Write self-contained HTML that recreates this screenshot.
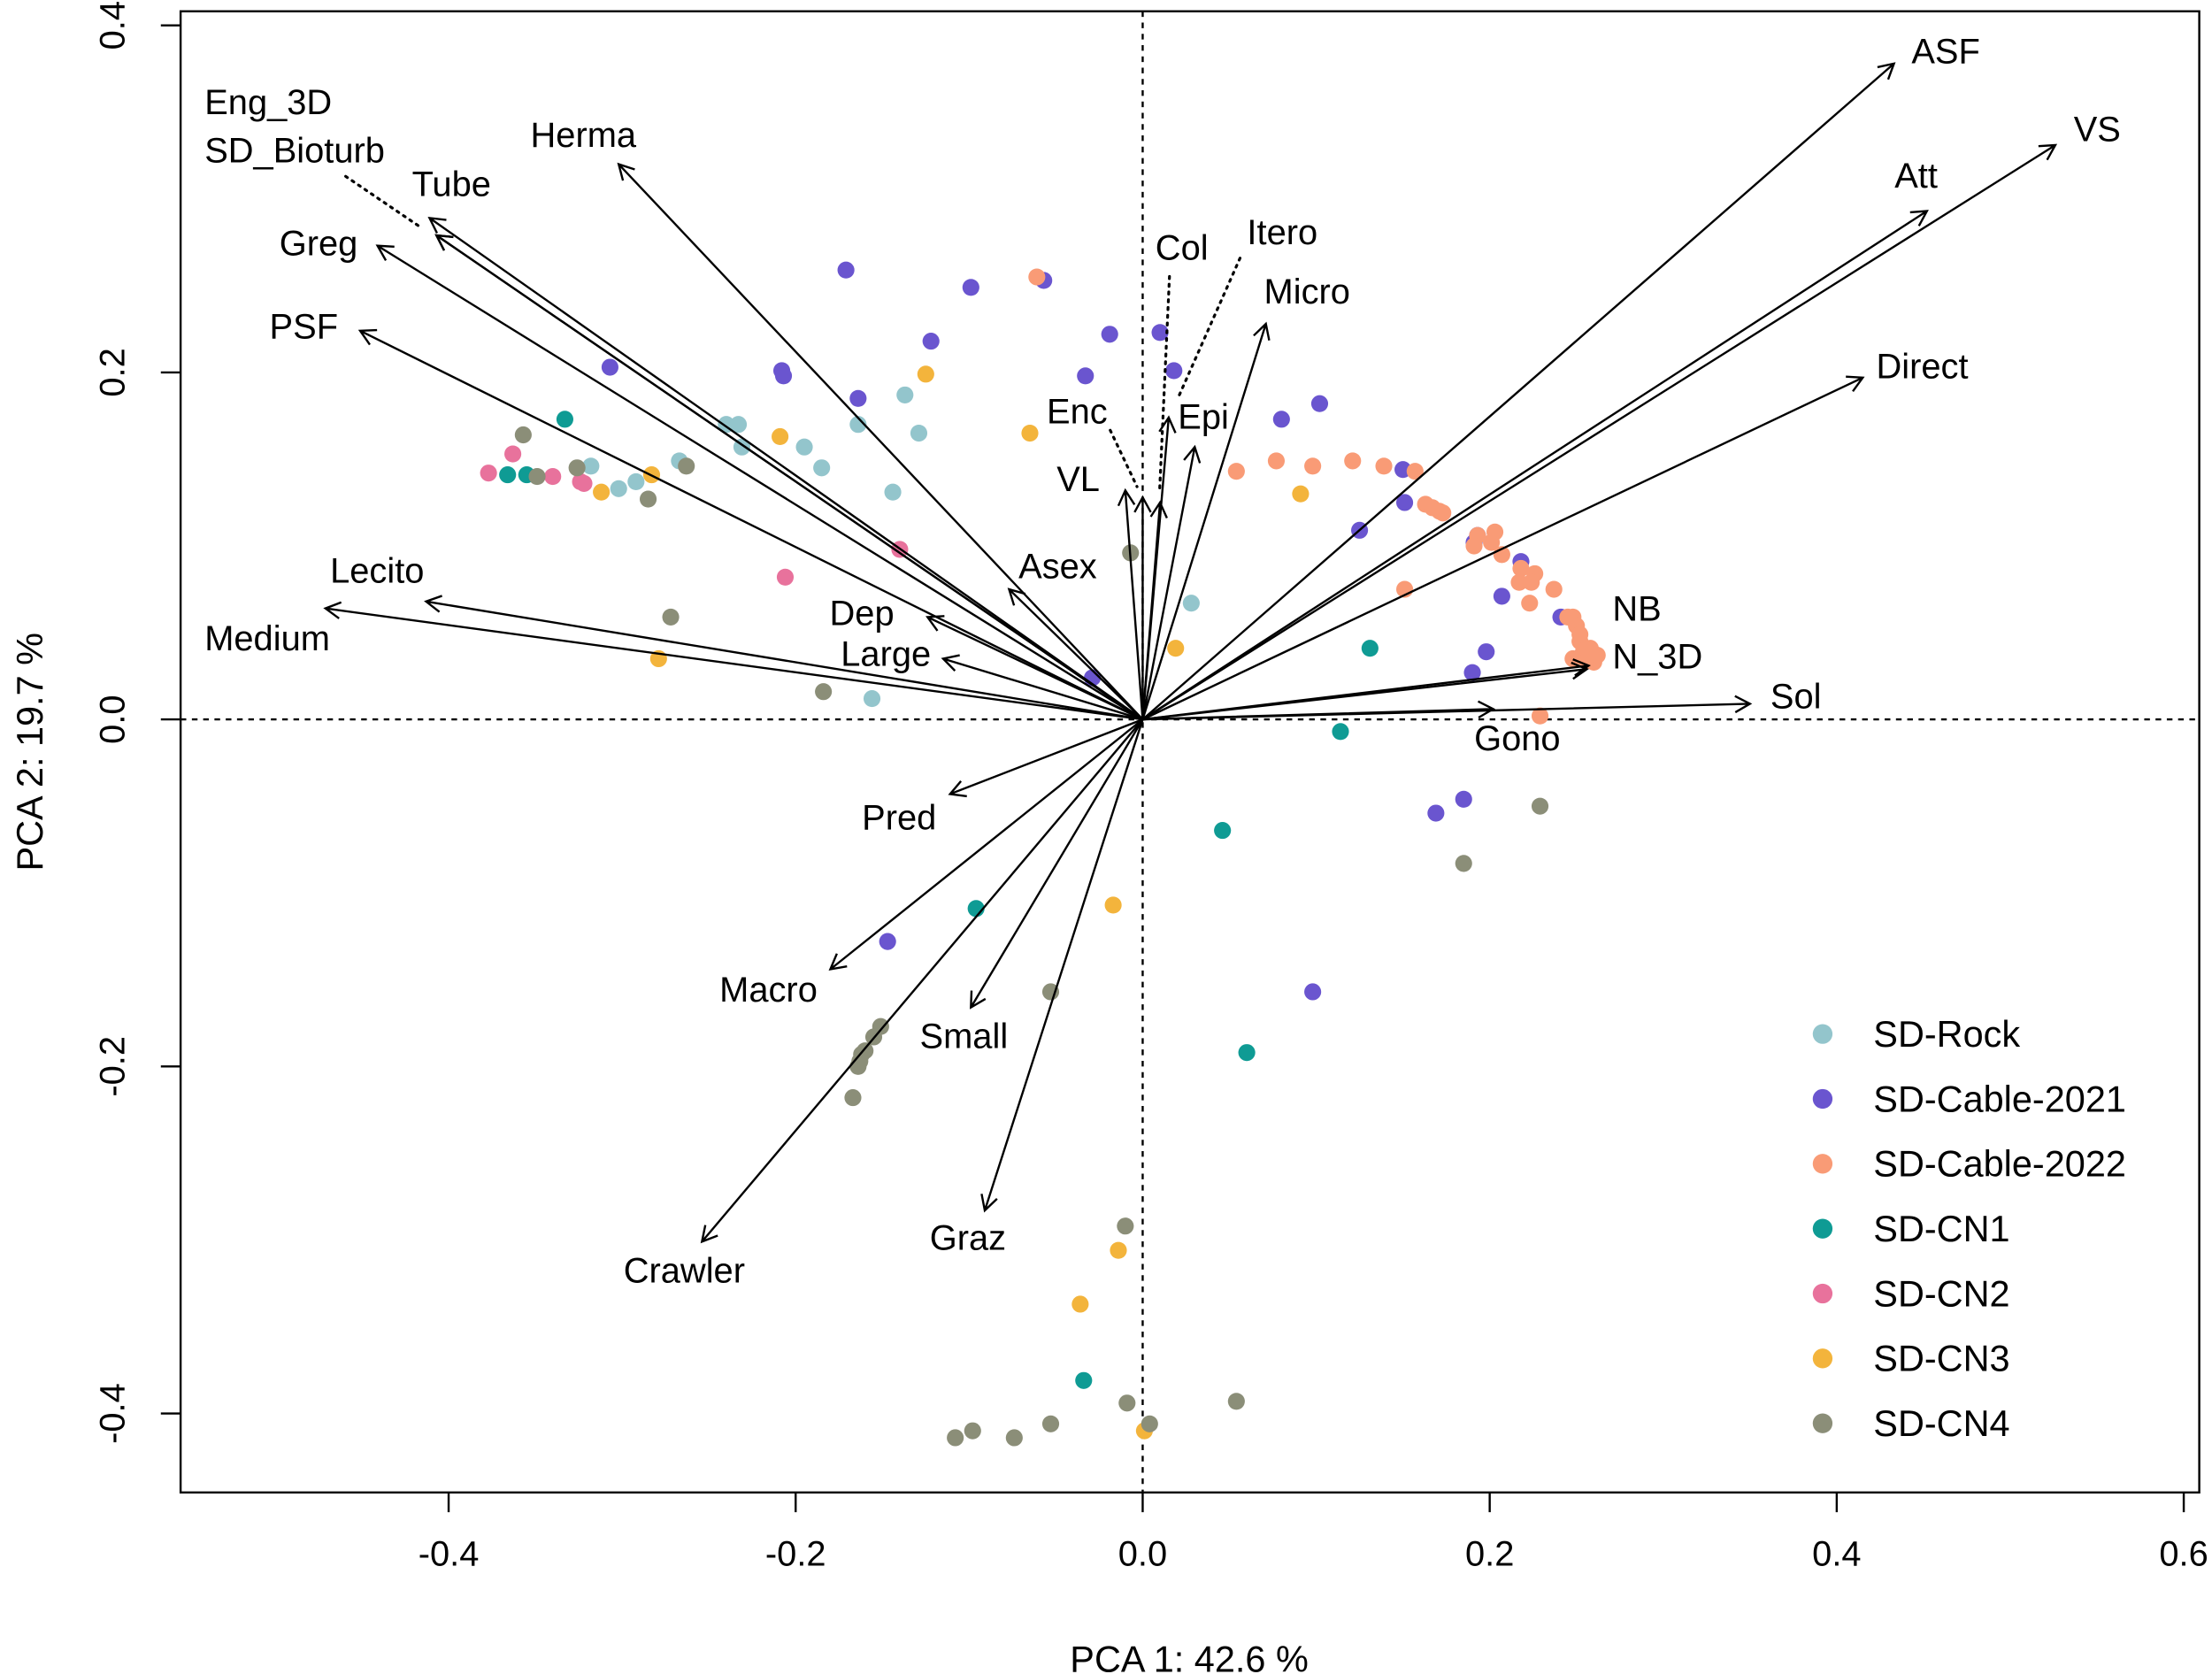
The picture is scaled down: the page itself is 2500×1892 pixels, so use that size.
<!DOCTYPE html>
<html><head><meta charset="utf-8"><style>
html,body{margin:0;padding:0;background:#fff;}
svg{display:block;}
text{font-family:"Liberation Sans",Arial,sans-serif;fill:#000;}
</style></head><body>
<svg id="chart" width="2500" height="1892" viewBox="0 0 1568 1186.7" xmlns="http://www.w3.org/2000/svg">
<rect x="0" y="0" width="1568" height="1187" fill="#fff"/>
<g id="axes"></g>
<g id="pts"></g>
<g id="arrows"></g>
<g id="legend"></g>
</svg>
<script>
const xTicks=[-0.4,-0.2,0.0,0.2,0.4,0.6];
const yTicks=[-0.4,-0.2,0.0,0.2,0.4];
const groupNames=["SD-Rock","SD-Cable-2021","SD-Cable-2022","SD-CN1","SD-CN2","SD-CN3","SD-CN4"];
const groupColors=["#93c5cc","#6a55cf","#f99b76","#0f9b94","#e8729c","#f3b43c","#8b8e78"];
const rockX=[-0.240,-0.233,-0.231,-0.195,-0.185,-0.164,-0.137,-0.129,-0.144,-0.318,-0.302,-0.292,-0.267,-0.156,0.028];
const rockY=[0.170,0.170,0.157,0.157,0.145,0.170,0.187,0.165,0.131,0.146,0.133,0.137,0.149,0.012,0.067];
const c21X=[-0.171,-0.099,-0.057,-0.019,0.010,0.018,-0.033,-0.122,-0.164,-0.208,-0.207,-0.307,0.080,0.102,0.125,0.150,0.151,0.191,0.193,0.218,0.207,0.241,0.198,0.190,0.185,0.169,0.098,-0.147,-0.029];
const c21Y=[0.259,0.249,0.253,0.222,0.223,0.201,0.198,0.218,0.185,0.201,0.198,0.203,0.173,0.182,0.109,0.144,0.125,0.102,0.106,0.091,0.071,0.059,0.039,0.027,-0.046,-0.054,-0.157,-0.128,0.024];
const c22X=[-0.061,0.054,0.077,0.098,0.121,0.139,0.157,0.163,0.171,0.173,0.167,0.193,0.203,0.201,0.191,0.207,0.218,0.226,0.224,0.237,0.217,0.223,0.245,0.248,0.250,0.252,0.254,0.256,0.260,0.262,0.258,0.151,0.229,0.252,0.248];
const c22Y=[0.255,0.143,0.149,0.146,0.149,0.146,0.143,0.124,0.120,0.119,0.122,0.106,0.108,0.102,0.100,0.095,0.087,0.084,0.079,0.075,0.079,0.067,0.059,0.059,0.054,0.045,0.039,0.034,0.033,0.037,0.041,0.075,0.002,0.049,0.035];
const cn1X=[-0.333,-0.366,-0.355,0.131,0.114,0.046,-0.096,0.060,-0.034];
const cn1Y=[0.173,0.141,0.141,0.041,-0.007,-0.064,-0.109,-0.192,-0.381];
const cn2X=[-0.377,-0.363,-0.340,-0.324,-0.322,-0.140,-0.206];
const cn2Y=[0.142,0.153,0.140,0.137,0.136,0.098,0.082];
const cn3X=[-0.125,-0.065,-0.209,-0.283,-0.312,0.091,0.019,-0.279,-0.017,-0.014,-0.036,0.001];
const cn3Y=[0.199,0.165,0.163,0.141,0.131,0.130,0.041,0.035,-0.107,-0.306,-0.337,-0.410];
const cn4X=[-0.357,-0.349,-0.326,-0.263,-0.285,-0.272,-0.184,-0.007,0.229,0.185,-0.053,-0.151,-0.155,-0.160,-0.162,-0.163,-0.164,-0.167,-0.010,-0.009,0.004,0.054,-0.108,-0.098,-0.074,-0.053];
const cn4Y=[0.164,0.140,0.145,0.146,0.127,0.059,0.016,0.096,-0.050,-0.083,-0.157,-0.177,-0.183,-0.191,-0.193,-0.197,-0.200,-0.218,-0.292,-0.394,-0.406,-0.393,-0.414,-0.410,-0.414,-0.406];
const varNames=["ASF","VS","Att","Direct","Sol","Gono","NB","N_3D","Micro","Epi","Col","Itero","Enc","VL","Asex","Dep","Large","Lecito","Medium","PSF","Greg","Tube","Eng_3D","SD_Bioturb","Herma","Pred","Macro","Small","Crawler","Graz"];
const varX=[0.433,0.526,0.452,0.415,0.350,0.202,0.257,0.256,0.071,0.030,0.015,0.010,0.000,-0.010,-0.077,-0.124,-0.115,-0.413,-0.471,-0.451,-0.441,-0.411,-0.407,-0.407,-0.302,-0.111,-0.180,-0.099,-0.254,-0.091];
const varY=[0.378,0.331,0.293,0.197,0.009,0.006,0.031,0.029,0.228,0.157,0.174,0.125,0.128,0.132,0.075,0.059,0.035,0.068,0.064,0.224,0.273,0.289,0.279,0.279,0.320,-0.043,-0.144,-0.166,-0.301,-0.283];
// label layout (display px): [x, baseline y]
const labelPos=[[1355,45],[1470,100],[1343,133],[1330,268],[1255,502],[1045,532],[1143,440],[1143,474],[896,215],[835,304],[819,184],[884,173],[742,300],[749,348],[722,410],[588,443],[596,472],[234,413],[145,461],[191,240],[198,181],[292,139],[145,81],[145,115],[376,104],[611,588],[510,710],[652,743],[442,909],[659,886]];
const leaders=[[829,196,822,348],[879,183,836,280],[787,305,806,345],[245,125,298,161]];

const NS="http://www.w3.org/2000/svg";
const X0=810,SC=1230,Y0=510;
function sx(v){return X0+v*SC;}
function sy(v){return Y0-v*SC;}
function mk(tag,attrs,parent){const e=document.createElementNS(NS,tag);for(const k in attrs)e.setAttribute(k,attrs[k]);parent.appendChild(e);return e;}
const axes=document.getElementById('axes');
let box=mk('rect',{x:128,y:8,width:1431,height:1050,fill:'none',stroke:'#000','stroke-width':1.5},axes);


let hz=mk('line',{x1:128,x2:1559,y1:sy(0),y2:sy(0),stroke:'#000','stroke-width':1.5,'stroke-dasharray':'4,4'},axes);


let vz=mk('line',{x1:sx(0),x2:sx(0),y1:8,y2:1058,stroke:'#000','stroke-width':1.5,'stroke-dasharray':'4,4'},axes);


xTicks.forEach(t=>{
  const x=sx(t);
  let l=mk('line',{x1:x,x2:x,y1:1058,y2:1072,stroke:'#000','stroke-width':1.5},axes);
  
  
  let tx=mk('text',{x:x,y:1110,'font-size':25,'text-anchor':'middle'},axes);
  tx.textContent=t.toFixed(1);
  
  
});
yTicks.forEach(t=>{
  const y=sy(t);
  let l=mk('line',{x1:114,x2:128,y1:y,y2:y,stroke:'#000','stroke-width':1.5},axes);
  
  
  let tx=mk('text',{x:88,y:y,'font-size':25,'text-anchor':'middle',transform:`rotate(-90 88 ${y})`},axes);
  tx.textContent=t.toFixed(1);
  
  
});
let xt=mk('text',{x:843,y:1185,'font-size':26,'text-anchor':'middle'},axes);
xt.textContent='PCA 1: 42.6 %';


let yt=mk('text',{x:30,y:533,'font-size':26,'text-anchor':'middle',transform:'rotate(-90 30 533)'},axes);
yt.textContent='PCA 2: 19.7 %';



const groupsX=[rockX,c21X,c22X,cn1X,cn2X,cn3X,cn4X];
const groupsY=[rockY,c21Y,c22Y,cn1Y,cn2Y,cn3Y,cn4Y];
const pts=document.getElementById('pts');
groupsX.forEach((gx,g)=>{
  gx.forEach((v,i)=>{
    let c=mk('circle',{cx:sx(v),cy:sy(groupsY[g][i]),r:6,fill:groupColors[g]},pts);
    
    
  });
});
const ar=document.getElementById('arrows');
leaders.forEach(d=>{
  let l=mk('line',{x1:d[0],y1:d[1],x2:d[2],y2:d[3],stroke:'#000','stroke-width':2,'stroke-dasharray':'1.5,4','stroke-linecap':'round'},ar);
  
  
});
varNames.forEach((n,i)=>{
  const x2=sx(varX[i]),y2=sy(varY[i]);
  const a=Math.atan2(y2-Y0,x2-X0),L=12,s=0.5;
  const d=`M${X0},${Y0}L${x2},${y2}M${x2-L*Math.cos(a-s)},${y2-L*Math.sin(a-s)}L${x2},${y2}L${x2-L*Math.cos(a+s)},${y2-L*Math.sin(a+s)}`;
  let p=mk('path',{d:d,fill:'none',stroke:'#000','stroke-width':1.5},ar);
  
  
  let t=mk('text',{x:labelPos[i][0],y:labelPos[i][1],'font-size':25},ar);
  t.textContent=n;
  
  
});
const lg=document.getElementById('legend');
groupNames.forEach((n,i)=>{
  const y=733+i*46;
  let c=mk('circle',{cx:1292,cy:y,r:7,fill:groupColors[i]},lg);
  
  
  let t=mk('text',{x:1328,y:y+9,'font-size':26},lg);
  t.textContent=n;
  
  
});
</script>
</body></html>
